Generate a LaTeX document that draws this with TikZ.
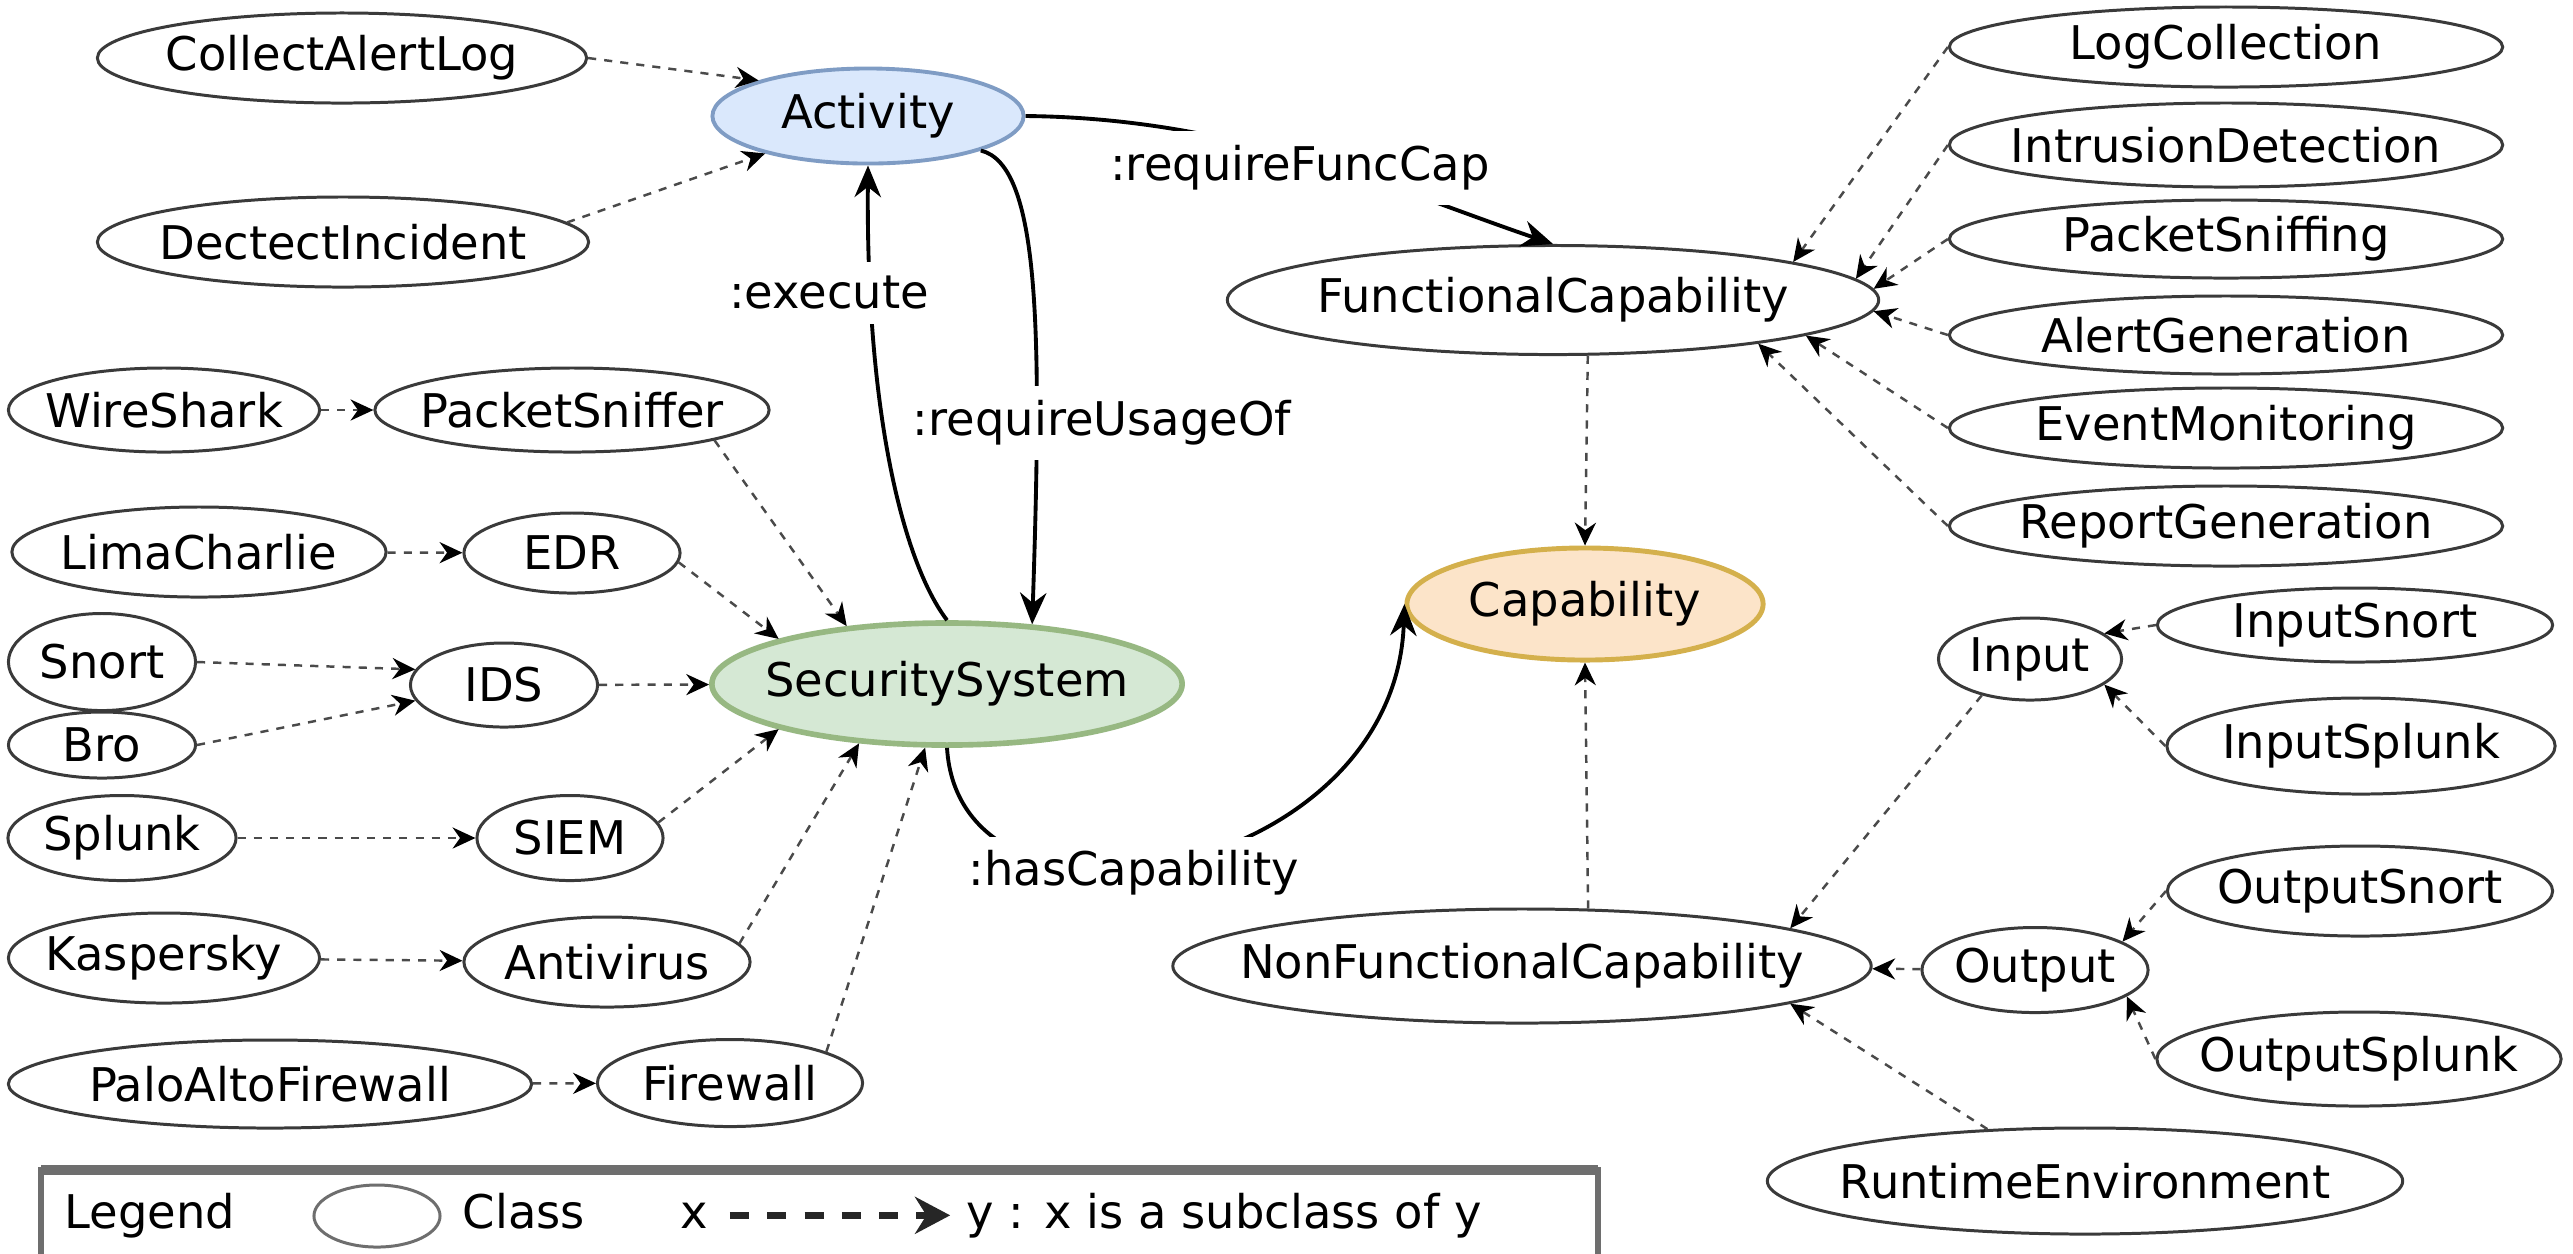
\documentclass[tikz,border=0pt]{standalone}
\usepackage{fontspec}
\setmainfont{DejaVu Sans}
\usetikzlibrary{arrows.meta,shapes.geometric}
\definecolor{clsline}{HTML}{3A3A3A}
\definecolor{subline}{HTML}{4A4A4A}
\definecolor{actfill}{HTML}{DAE8FC}
\definecolor{actline}{HTML}{7F9CC4}
\definecolor{ssfill}{HTML}{D5E8D4}
\definecolor{ssline}{HTML}{97B882}
\definecolor{capfill}{HTML}{FCE4C9}
\definecolor{capline}{HTML}{D4B04C}
\definecolor{legline}{HTML}{6E6E6E}
% class names are centred in a zero-width box so the ellipse keeps its given size
\newcommand{\ctxt}[1]{\makebox[0pt]{#1}}
\begin{document}
\begin{tikzpicture}[x=0.01cm, y=-0.01cm,
  every node/.style={font=\fontsize{13.2pt}{15pt}\selectfont},
  cls/.style 2 args={ellipse, draw=clsline, fill=white, line width=0.85pt,
    minimum width=#1, minimum height=#2, inner sep=0pt},
  sub/.style={draw=subline, line width=0.7pt, dash pattern=on 2.3pt off 2.3pt,
    -{Stealth[length=6.5pt,width=6pt,black]}},
  rel/.style={draw=black, line width=1.1pt, -{Stealth[length=9pt,width=7.5pt]}},
  lbl/.style={fill=white, inner sep=4pt},
  legarrow/.style={draw=black!85, line width=2pt, dash pattern=on 5.4pt off 5.2pt,
    -{Stealth[length=10pt,width=10.5pt]}},
]
\useasboundingbox (0,0) rectangle (2573,1253);
\clip (0,0) rectangle (2573,1253);
\fill[white] (0,0) rectangle (2573,1253);

% ---- activities and security systems
\node[cls={4.89cm}{0.90cm}] (cal) at (342,58) {\ctxt{CollectAlertLog}};
\node[cls={4.91cm}{0.90cm}] (ddi) at (343,242) {\ctxt{DectectIncident}};
\node[cls={3.11cm}{0.95cm}, fill=actfill, draw=actline, line width=1.1pt] (act) at (868,116) {\ctxt{Activity}};
\node[cls={3.11cm}{0.84cm}] (ws) at (164,410) {\ctxt{WireShark}};
\node[cls={3.94cm}{0.84cm}] (ps) at (572,410) {\ctxt{PacketSniffer}};
\node[cls={3.74cm}{0.90cm}] (lc) at (199,552) {\ctxt{LimaCharlie}};
\node[cls={2.16cm}{0.80cm}] (edr) at (572,553) {\ctxt{EDR}};
\node[cls={1.87cm}{0.97cm}] (snort) at (102,662) {\ctxt{Snort}};
\node[cls={1.87cm}{0.66cm}] (bro) at (102,745) {\ctxt{Bro}};
\node[cls={1.87cm}{0.84cm}] (ids) at (504,685) {\ctxt{IDS}};
\node[cls={4.70cm}{1.22cm}, fill=ssfill, draw=ssline, line width=1.6pt] (ss) at (947,684) {\ctxt{SecuritySystem}};
\node[cls={2.28cm}{0.85cm}] (splunk) at (122,838) {\ctxt{Splunk}};
\node[cls={1.86cm}{0.85cm}] (siem) at (570,838) {\ctxt{SIEM}};
\node[cls={3.11cm}{0.90cm}] (kas) at (164,958) {\ctxt{Kaspersky}};
\node[cls={2.86cm}{0.90cm}] (av) at (607,962) {\ctxt{Antivirus}};
\node[cls={5.23cm}{0.88cm}] (paf) at (270,1084) {\ctxt{PaloAltoFirewall}};
\node[cls={2.65cm}{0.87cm}] (fw) at (730,1083) {\ctxt{Firewall}};

% ---- capabilities
\node[cls={6.51cm}{1.09cm}] (fc) at (1553,300) {\ctxt{FunctionalCapability}};
\node[cls={3.56cm}{1.12cm}, fill=capfill, draw=capline, line width=1.4pt] (cap) at (1585,604) {\ctxt{Capability}};
\node[cls={5.53cm}{0.80cm}] (logc) at (2226,47) {\ctxt{LogCollection}};
\node[cls={5.53cm}{0.84cm}] (intr) at (2226,145) {\ctxt{IntrusionDetection}};
\node[cls={5.53cm}{0.78cm}] (pack) at (2226,239) {\ctxt{PacketSniffing}};
\node[cls={5.53cm}{0.78cm}] (alert) at (2226,335) {\ctxt{AlertGeneration}};
\node[cls={5.53cm}{0.80cm}] (event) at (2226,428) {\ctxt{EventMonitoring}};
\node[cls={5.53cm}{0.80cm}] (report) at (2226,526) {\ctxt{ReportGeneration}};
\node[cls={1.83cm}{0.82cm}] (inp) at (2030,659) {\ctxt{Input}};
\node[cls={3.95cm}{0.74cm}] (insn) at (2355,625) {\ctxt{InputSnort}};
\node[cls={3.88cm}{0.96cm}] (insp) at (2361,746) {\ctxt{InputSplunk}};
\node[cls={3.85cm}{0.90cm}] (outsn) at (2360,891) {\ctxt{OutputSnort}};
\node[cls={2.26cm}{0.85cm}] (out) at (2035,970) {\ctxt{Output}};
\node[cls={4.04cm}{0.94cm}] (outsp) at (2359,1059) {\ctxt{OutputSplunk}};
\node[cls={6.98cm}{1.14cm}] (nfc) at (1522,966) {\ctxt{NonFunctionalCapability}};
\node[cls={6.35cm}{1.06cm}] (rte) at (2085,1181) {\ctxt{RuntimeEnvironment}};

% ---- subclass links
\draw[sub] (cal.east) -- (act.162);
\draw[sub] (ddi.5) -- (act.200);
\draw[sub] (ws) -- (ps);
\draw[sub] (ps.-12) -- (ss.150);
\draw[sub] (lc) -- (edr);
\draw[sub] (edr.-5) -- (ss.165);
\draw[sub] (snort.east) -- (ids.170);
\draw[sub] (bro.east) -- (ids.190);
\draw[sub] (ids) -- (ss);
\draw[sub] (splunk) -- (siem);
\draw[sub] (siem.10) -- (ss.195);
\draw[sub] (kas) -- (av);
\draw[sub] (av.8) -- (ss.214);
\draw[sub] (paf) -- (fw);
\draw[sub] (fw.18) -- (ss.251);

\draw[sub] (fc.-58) -- (cap.north);
\draw[sub] (nfc.41) -- (cap.south);
\draw[sub] (logc.west) -- (fc.9);
\draw[sub] (intr.west) -- (fc.4.5);
\draw[sub] (pack.west) -- (fc.2);
\draw[sub] (alert.west) -- (fc.-2);
\draw[sub] (event.west) -- (fc.-8);
\draw[sub] (report.west) -- (fc.-12.6);
\draw[sub] (insn.west) -- (inp.19);
\draw[sub] (insp.west) -- (inp.-19);
\draw[sub] (inp.217) -- (nfc.8);
\draw[sub] (out) -- (nfc);
\draw[sub] (outsn.west) -- (out.18);
\draw[sub] (outsp.west) -- (out.-16);
\draw[sub] (rte.152) -- (nfc.-8);

% ---- object properties
\draw[rel] (act.east) .. controls (1240,118) and (1400,192) .. (fc.north);
\draw[rel] (ss.north) .. controls (905,565) and (866,420) .. (act.south);
\draw[rel] (act.-17) .. controls (1040,165) and (1042,330) .. (ss.35);
\draw[rel] (ss.south) .. controls (960,960) and (1395,880) .. (cap.west);

\node[lbl] (lfc) at (1300,168) {:requireFuncCap};
\node[lbl] (lex) at (829,293) {:execute};
\node[lbl] (lru) at (1102,423) {:requireUsageOf};
\node[lbl] (lhc) at (1134,873) {:hasCapability};

% ---- legend
\draw[legline, line width=1.7pt] (41,1300) -- (41,1170) -- (1598,1170) -- (1598,1300);
\draw[legline, line width=2.8pt] (41,1170) -- (1598,1170);
\node[anchor=base west, inner sep=0pt] (legt) at (64,1228) {Legend};
\node[cls={1.26cm}{0.62cm}, draw=legline] (legcls) at (377,1216) {};
\node[anchor=base west, inner sep=0pt] (legc) at (462,1228) {Class};
\node[anchor=base west, inner sep=0pt] (legx) at (680,1228) {x};
\node[anchor=base west, inner sep=0pt] (legy) at (966,1228) {y : x is a subclass of y};
\draw[legarrow, shorten <=6pt, shorten >=4.5pt] (legx.east) -- (legx.east -| legy.west);
\end{tikzpicture}
\end{document}
